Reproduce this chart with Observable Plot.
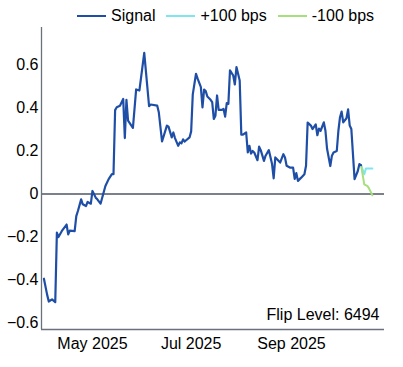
<!DOCTYPE html>
<html>
<head>
<meta charset="utf-8">
<script src="https://cdn.jsdelivr.net/npm/d3@7"></script>
<script src="https://cdn.jsdelivr.net/npm/@observablehq/plot@0.6"></script>
<style>
  html, body { margin: 0; padding: 0; background: #fff; }
  #wrap { width: 403px; font-family: "Liberation Sans", Arial, Helvetica, sans-serif; color: #000; }
  #legend { display: flex; align-items: center; height: 16px; padding-top: 8px; padding-left: 77px; font-size: 16px; line-height: 16px; }
  .item { display: flex; align-items: center; margin-right: 11px; white-space: nowrap; }
  .sw { width: 29px; height: 0; border-top: 2.5px solid; margin-right: 5px; }
</style>
</head>
<body>
<div id="wrap">
  <div id="legend"></div>
  <div id="chart"></div>
</div>
<script>
const seriesNames = ["Signal", "+100 bps", "-100 bps"];
const seriesColors = ["#1f4ea6", "#7fe6f0", "#a6df7e"];

const signalDates = [
  "2025-04-01","2025-04-03","2025-04-04","2025-04-06","2025-04-08","2025-04-09","2025-04-10","2025-04-12",
  "2025-04-15","2025-04-16","2025-04-17","2025-04-20","2025-04-21","2025-04-22","2025-04-24","2025-04-25",
  "2025-04-27","2025-04-28","2025-04-30","2025-05-01","2025-05-03","2025-05-04","2025-05-06","2025-05-09",
  "2025-05-11","2025-05-13","2025-05-14","2025-05-15","2025-05-16","2025-05-18","2025-05-20","2025-05-21",
  "2025-05-22","2025-05-23","2025-05-26","2025-05-28","2025-05-30","2025-06-02","2025-06-05","2025-06-06",
  "2025-06-10","2025-06-11","2025-06-13","2025-06-16","2025-06-17","2025-06-19","2025-06-20","2025-06-21",
  "2025-06-23","2025-06-24","2025-06-25","2025-06-26","2025-06-27","2025-06-30","2025-07-01","2025-07-02",
  "2025-07-04","2025-07-05","2025-07-07","2025-07-08","2025-07-09","2025-07-10","2025-07-11","2025-07-13",
  "2025-07-14","2025-07-15","2025-07-16","2025-07-17","2025-07-18","2025-07-20","2025-07-21","2025-07-22",
  "2025-07-23","2025-07-24","2025-07-25","2025-07-27","2025-07-28","2025-07-29","2025-07-30","2025-07-31",
  "2025-08-01","2025-08-02","2025-08-04","2025-08-05","2025-08-06","2025-08-07","2025-08-08","2025-08-09",
  "2025-08-11","2025-08-12","2025-08-13","2025-08-15","2025-08-16","2025-08-18","2025-08-20","2025-08-21",
  "2025-08-22","2025-08-24","2025-08-25","2025-08-27","2025-08-28","2025-08-29","2025-08-31","2025-09-02",
  "2025-09-03","2025-09-04","2025-09-05","2025-09-07","2025-09-09","2025-09-10","2025-09-11","2025-09-13",
  "2025-09-14","2025-09-16","2025-09-17","2025-09-18","2025-09-19","2025-09-21","2025-09-22","2025-09-23",
  "2025-09-25","2025-09-26","2025-09-27","2025-09-29","2025-09-30","2025-10-01","2025-10-02","2025-10-03",
  "2025-10-05","2025-10-06","2025-10-07","2025-10-08","2025-10-10","2025-10-12","2025-10-13","2025-10-14"
];
const signalValues = [
  -0.394,-0.469,-0.500,-0.490,-0.503,-0.180,-0.200,-0.173,
  -0.142,-0.188,-0.170,-0.173,-0.103,-0.079,-0.025,-0.048,
  -0.056,-0.037,-0.045,0.014,-0.017,-0.025,-0.045,0.037,
  0.069,0.092,0.092,0.390,0.403,0.410,0.442,0.260,
  0.438,0.341,0.307,0.486,0.481,0.656,0.408,0.416,
  0.411,0.380,0.244,0.318,0.313,0.263,0.286,0.260,
  0.224,0.240,0.235,0.254,0.244,0.263,0.291,0.463,
  0.559,0.536,0.497,0.403,0.485,0.478,0.453,0.438,
  0.427,0.349,0.364,0.458,0.391,0.391,0.396,0.360,
  0.422,0.419,0.575,0.551,0.509,0.590,0.559,0.528,
  0.276,0.276,0.286,0.193,0.224,0.188,0.200,0.193,
  0.157,0.220,0.204,0.154,0.178,0.204,0.139,0.073,
  0.170,0.154,0.146,0.185,0.170,0.131,0.123,0.123,
  0.070,0.097,0.061,0.076,0.092,0.131,0.332,0.318,
  0.302,0.324,0.273,0.304,0.294,0.333,0.294,0.210,
  0.130,0.178,0.193,0.200,0.294,0.357,0.383,0.333,
  0.352,0.393,0.318,0.302,0.069,0.107,0.139,0.134
];
const upDates = ["2025-10-14","2025-10-16","2025-10-17","2025-10-21"];
const upValues = [0.134, 0.092, 0.118, 0.118];
const downDates = ["2025-10-14","2025-10-16","2025-10-18","2025-10-19","2025-10-21"];
const downValues = [0.134, 0.045, 0.037, 0.025, -0.006];

const xTicks = ["2025-05-01","2025-07-01","2025-09-01"];
const yTicks = [-0.6, -0.4, -0.2, 0, 0.2, 0.4, 0.6];
const xDomain = ["2025-03-30T12:00Z", "2025-10-28T12:00Z"];
const yDomain = [-0.630, 0.774];
const flipLabel = "Flip Level: 6494";

const rows = (dates, values, name) => dates.map((d, i) => ({date: new Date(d), value: values[i], series: name}));
const data = [
  ...rows(signalDates, signalValues, seriesNames[0]),
  ...rows(upDates, upValues, seriesNames[1]),
  ...rows(downDates, downValues, seriesNames[2])
];

// legend
const legend = document.getElementById("legend");
seriesNames.forEach((n, i) => {
  const it = document.createElement("div");
  it.className = "item";
  const sw = document.createElement("span");
  sw.className = "sw";
  sw.style.borderTopColor = seriesColors[i];
  const t = document.createElement("span");
  t.textContent = n;
  it.appendChild(sw); it.appendChild(t);
  legend.appendChild(it);
});

const xd = xDomain.map(d => new Date(d));
const axisColor = "#6b717b";

const chart = Plot.plot({
  width: 403,
  height: 343,
  marginTop: 3,
  marginBottom: 38,
  marginLeft: 41,
  marginRight: 19,
  style: {fontFamily: '"Liberation Sans", Arial, Helvetica, sans-serif', fontSize: "16px", color: "#000", background: "#fff"},
  x: {type: "utc", domain: xd, ticks: xTicks.map(d => new Date(d)), tickFormat: d3.utcFormat("%b %Y"), tickSize: 0, tickPadding: 8, label: null},
  y: {domain: yDomain, ticks: yTicks, tickFormat: d => d === 0 ? "0" : d3.format(".1f")(d).replace("-", "\u2212"), tickSize: 0, tickPadding: 3, label: null},
  color: {domain: seriesNames, range: seriesColors},
  marks: [
    Plot.ruleY([0], {stroke: "#7b818a", strokeWidth: 2}),
    Plot.line(data.filter(d => d.series !== seriesNames[0]), {x: "date", y: "value", z: "series", stroke: "series", strokeWidth: 2}),
    Plot.line(data.filter(d => d.series === seriesNames[0]), {x: "date", y: "value", stroke: "series", strokeWidth: 2.2, strokeLinejoin: "round"}),
    Plot.ruleX([xd[0]], {stroke: axisColor, strokeWidth: 1.3}),
    Plot.ruleY([yDomain[0]], {stroke: axisColor, strokeWidth: 1.3}),
    Plot.text([flipLabel], {frameAnchor: "bottom-right", text: d => d, dx: -5, dy: -10, lineAnchor: "bottom", fill: "#000", fontSize: 16})
  ]
});
document.getElementById("chart").appendChild(chart);
</script>
</body>
</html>
